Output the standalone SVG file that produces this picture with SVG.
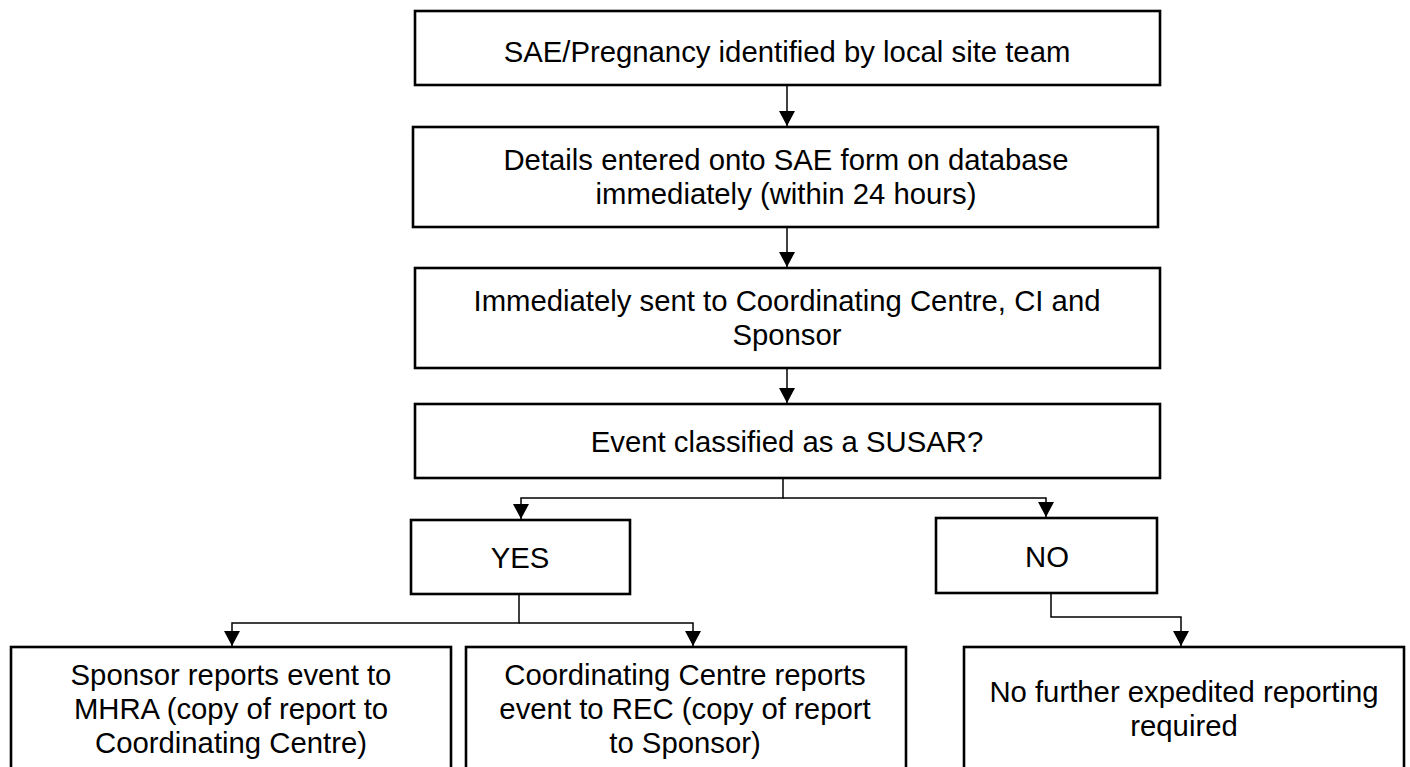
<svg xmlns="http://www.w3.org/2000/svg" width="1410" height="767" viewBox="0 0 1410 767">
<style>
.box{fill:#fff;stroke:#000;stroke-width:2.6}
.t{font-family:"Liberation Sans",Arial,sans-serif;font-size:29.3px;fill:#000;text-anchor:middle}
.c{fill:none;stroke:#000;stroke-width:1.5}
</style>
<defs>
<marker id="ah" markerWidth="16" markerHeight="16" refX="15" refY="8" orient="auto" markerUnits="userSpaceOnUse">
<path d="M0,0 L15,8 L0,16 Z" fill="#000"/>
</marker>
</defs>
<rect width="1410" height="767" fill="#fff"/>
<g id="n1"><rect class="box" x="415" y="11" width="745" height="74"/><text class="t" x="787" y="62">SAE/Pregnancy identified by local site team</text></g>
<g id="n2"><rect class="box" x="413" y="127" width="745" height="100"/><text class="t" x="786" y="170">Details entered onto SAE form on database</text><text class="t" x="786" y="204">immediately (within 24 hours)</text></g>
<g id="n3"><rect class="box" x="415" y="268" width="745" height="100"/><text class="t" x="787" y="311">Immediately sent to Coordinating Centre, CI and</text><text class="t" x="787" y="345">Sponsor</text></g>
<g id="n4"><rect class="box" x="415" y="404" width="745" height="74"/><text class="t" x="787" y="452">Event classified as a SUSAR?</text></g>
<g id="yes"><rect class="box" x="411" y="520" width="219" height="74"/><text class="t" x="520" y="568">YES</text></g>
<g id="no"><rect class="box" x="936" y="518" width="221" height="75"/><text class="t" x="1047" y="567">NO</text></g>
<g id="a"><rect class="box" x="11" y="647" width="440" height="130"/><text class="t" x="231" y="685">Sponsor reports event to</text><text class="t" x="231" y="719">MHRA (copy of report to</text><text class="t" x="231" y="753">Coordinating Centre)</text></g>
<g id="b"><rect class="box" x="466" y="647" width="440" height="130"/><text class="t" x="685" y="685">Coordinating Centre reports</text><text class="t" x="685" y="719">event to REC (copy of report</text><text class="t" x="685" y="753">to Sponsor)</text></g>
<g id="c"><rect class="box" x="964" y="647" width="440" height="130"/><text class="t" x="1184" y="702">No further expedited reporting</text><text class="t" x="1184" y="736">required</text></g>
<g id="connectors">
<path class="c" d="M787,85 V126" marker-end="url(#ah)"/>
<path class="c" d="M787,227 V267" marker-end="url(#ah)"/>
<path class="c" d="M787,368 V403" marker-end="url(#ah)"/>
<path class="c" d="M783,478 V498 H521 V519" marker-end="url(#ah)"/>
<path class="c" d="M783,498 H1046 V517" marker-end="url(#ah)"/>
<path class="c" d="M519,594 V623 H232 V646" marker-end="url(#ah)"/>
<path class="c" d="M519,623 H693 V646" marker-end="url(#ah)"/>
<path class="c" d="M1051,593 V617 H1181 V646" marker-end="url(#ah)"/>
</g>
</svg>
